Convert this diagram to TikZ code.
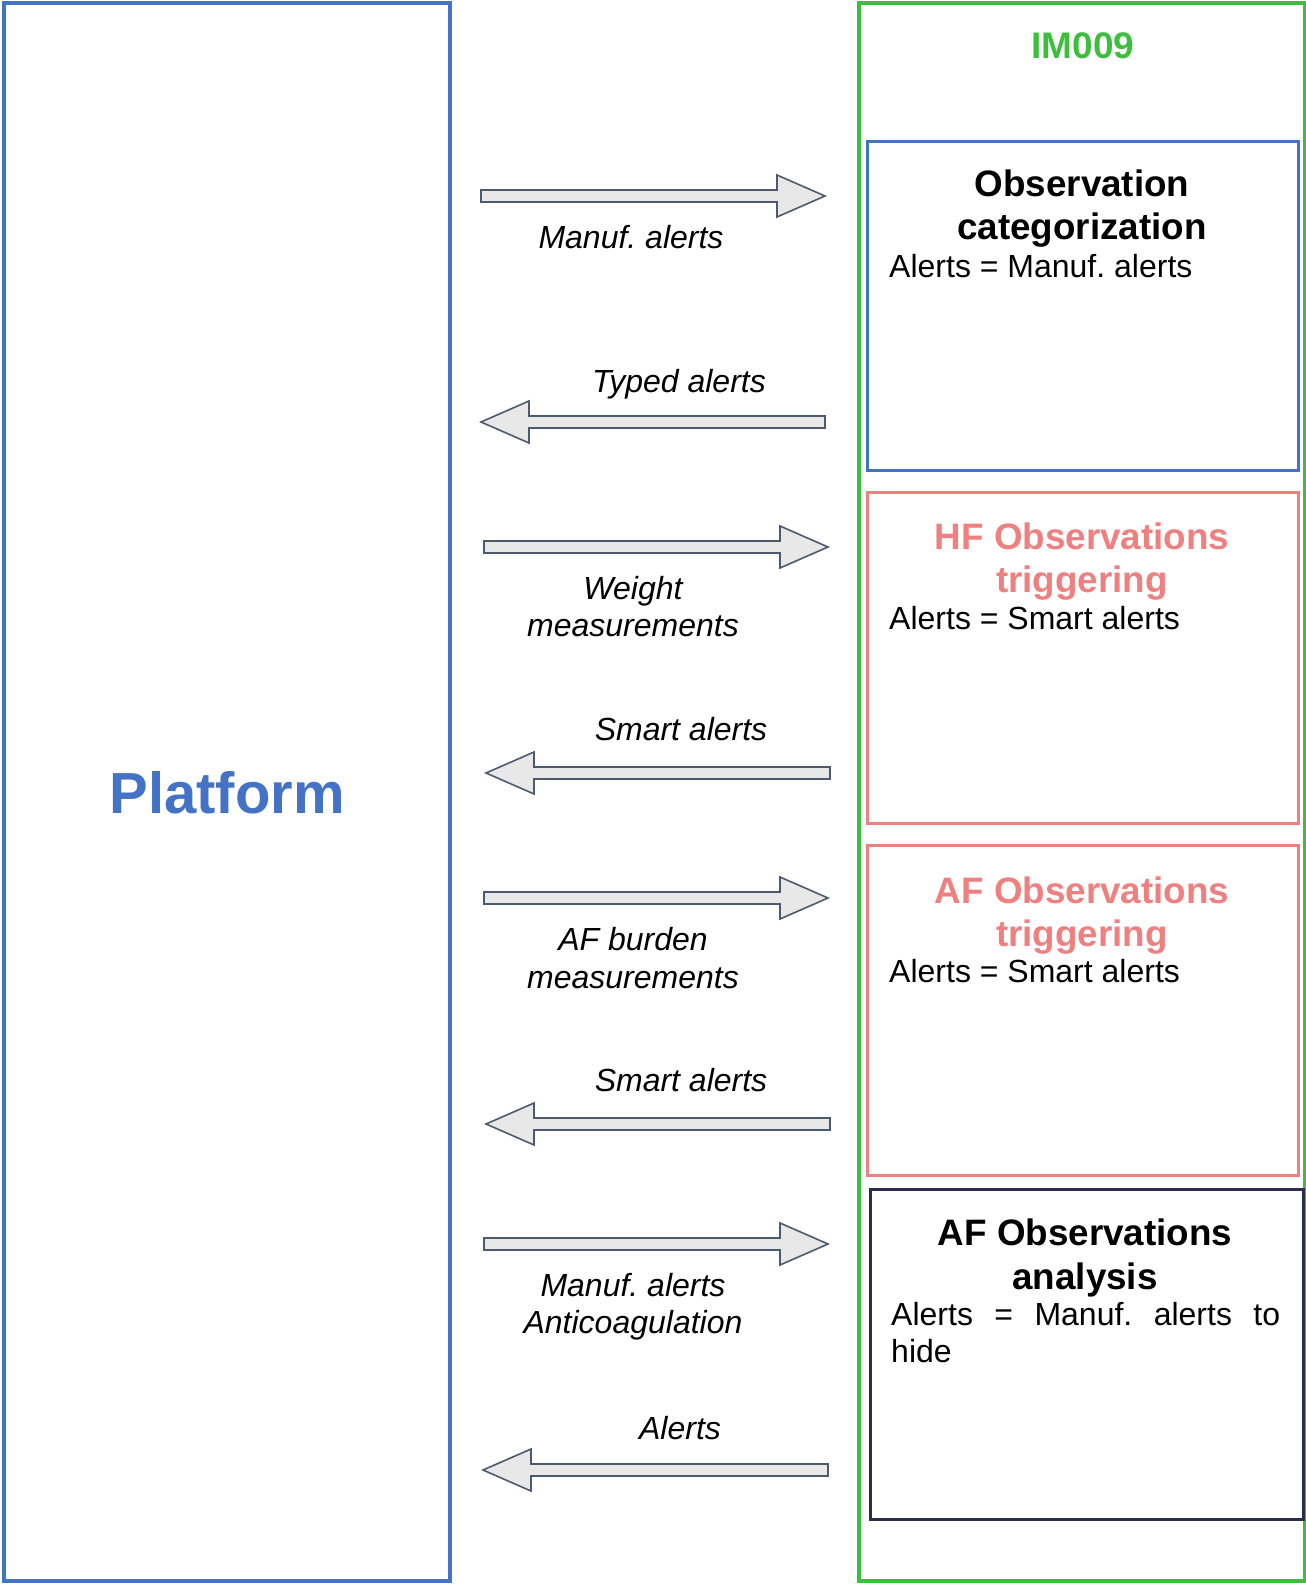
\documentclass[tikz,border=0pt]{standalone}
\usepackage{fontspec}
\setmainfont{Liberation Sans}
\frenchspacing
\definecolor{platblue}{HTML}{4472C4}
\definecolor{imgreen}{HTML}{3DBE3D}
\definecolor{salmon}{HTML}{EE8080}
\definecolor{navy}{HTML}{2B2D4E}
\definecolor{arrowline}{HTML}{4D5A6E}
\definecolor{arrowfill}{HTML}{E8E8E8}
\newcommand\labfont{\fontsize{32}{38}\selectfont\itshape}
\newcommand\bodyfont{\fontsize{32}{38}\selectfont}
\newcommand\titlefont{\fontsize{36.8}{43}\selectfont\bfseries}
% right-pointing block arrow: name, tail x, tip x, y
\newcommand\rightblock[4]{%
  \coordinate (#1-tail) at (#2,#4);
  \coordinate (#1-tip) at (#3,#4);
  \draw[blockarrow] (#2,#4-6) -- (#3-48,#4-6) -- (#3-48,#4-21) -- (#1-tip)
     -- (#3-48,#4+21) -- (#3-48,#4+6) -- (#2,#4+6) -- cycle;}
% left-pointing block arrow: name, tip x, tail x, y
\newcommand\leftblock[4]{%
  \coordinate (#1-tip) at (#2,#4);
  \coordinate (#1-tail) at (#3,#4);
  \draw[blockarrow] (#1-tip) -- (#2+48,#4-21) -- (#2+48,#4-6) -- (#3,#4-6)
     -- (#3,#4+6) -- (#2+48,#4+6) -- (#2+48,#4+21) -- cycle;}
\begin{document}
\begin{tikzpicture}[x=1pt,y=-1pt,
  blockarrow/.style={draw=arrowline, fill=arrowfill, line width=1.6pt, line join=miter},
  framebox/.style={draw, inner sep=0pt, outer sep=0pt},
  lab/.style={anchor=base, inner sep=0pt, font=\labfont},
  ttl/.style={anchor=base, inner sep=0pt, font=\titlefont},
  bdy/.style={anchor=base west, inner sep=0pt, font=\bodyfont},
]
\useasboundingbox (0,0) rectangle (1306,1585);
% main frames
\node[framebox, draw=platblue, line width=4pt, minimum width=446pt, minimum height=1578pt] (platform) at (227,792) {};
\node[framebox, draw=imgreen, line width=3.5pt, minimum width=445.5pt, minimum height=1578pt] (im) at (1081.75,792) {};
\node[anchor=base, inner sep=0pt, text=platblue, font=\fontsize{58}{70}\selectfont\bfseries] (platlabel) at (227,813) {Platform};
\node[anchor=base, inner sep=0pt, text=imgreen, font=\fontsize{37}{44}\selectfont\bfseries] (imlabel) at (1083,58) {IM009};
% inner boxes
\node[framebox, draw=platblue, line width=3pt, minimum width=430.5pt, minimum height=329pt] (obs) at (1082.75,305.5) {};
\node[framebox, draw=salmon, line width=3pt, minimum width=430.5pt, minimum height=331pt] (hf) at (1082.75,657.5) {};
\node[framebox, draw=salmon, line width=3pt, minimum width=430.5pt, minimum height=330pt] (af) at (1082.75,1010) {};
\node[framebox, draw=navy, line width=3pt, minimum width=433pt, minimum height=330pt] (afa) at (1086.5,1354) {};
% box texts
\node[ttl] (obst1) at (1082,196) {Observation};
\node[ttl] (obst2) at (1082,239) {categorization};
\node[bdy] (obsb) at (889,277) {Alerts = Manuf. alerts};
\node[ttl, text=salmon] (hft1) at (1082,549) {HF Observations};
\node[ttl, text=salmon] (hft2) at (1082,592) {triggering};
\node[bdy] (hfb) at (889,629) {Alerts = Smart alerts};
\node[ttl, text=salmon] (aft1) at (1082,903) {AF Observations};
\node[ttl, text=salmon] (aft2) at (1082,946) {triggering};
\node[bdy] (afb) at (889,982) {Alerts = Smart alerts};
\node[ttl] (afat1) at (1085,1245) {AF Observations};
\node[ttl] (afat2) at (1085,1289) {analysis};
\node[bdy] (afab1) at (891,1325) {\hbox to 389pt{Alerts\hfill=\hfill Manuf.\hfill alerts\hfill to}};
\node[bdy] (afab2) at (891,1362) {hide};
% arrows
\rightblock{a1}{481}{825}{196}
\leftblock{a2}{481}{825}{422}
\rightblock{a3}{484}{828}{547}
\leftblock{a4}{486}{830}{773}
\rightblock{a5}{484}{828}{898}
\leftblock{a6}{486}{830}{1124}
\rightblock{a7}{484}{828}{1244}
\leftblock{a8}{483}{828}{1470}
% arrow labels
\node[lab] (l1) at (631,248) {Manuf. alerts};
\node[lab] (l2) at (679,392) {Typed alerts};
\node[lab] (l3a) at (633,599) {Weight};
\node[lab] (l3b) at (633,636) {measurements};
\node[lab] (l4) at (681,740) {Smart alerts};
\node[lab] (l5a) at (633,950) {AF burden};
\node[lab] (l5b) at (633,988) {measurements};
\node[lab] (l6) at (681,1091) {Smart alerts};
\node[lab] (l7a) at (633,1296) {Manuf. alerts};
\node[lab] (l7b) at (633,1333) {Anticoagulation};
\node[lab] (l8) at (680,1439) {Alerts};
\end{tikzpicture}
\end{document}
